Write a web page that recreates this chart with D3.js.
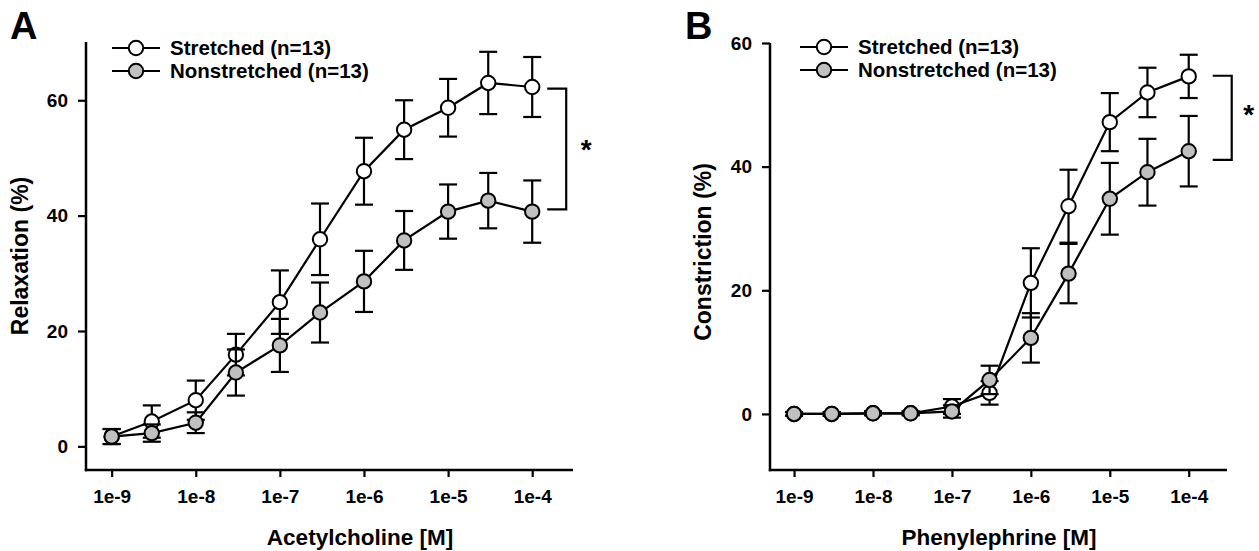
<!DOCTYPE html>
<html>
<head>
<meta charset="utf-8">
<script src="https://cdn.jsdelivr.net/npm/d3@7"></script>
<style>
  body { margin: 0; background: #fff; }
  text { font-family: Arial, "Liberation Sans", sans-serif; font-weight: bold; fill: #000; }
</style>
</head>
<body>
<div id="main"></div>
<script>
// concentrations [M]
var conc = [1e-9, 3e-9, 1e-8, 3e-8, 1e-7, 3e-7, 1e-6, 3e-6, 1e-5, 3e-5, 1e-4];
var tickVals = [1e-9, 1e-8, 1e-7, 1e-6, 1e-5, 1e-4];
var tickLabels = ["1e-9", "1e-8", "1e-7", "1e-6", "1e-5", "1e-4"];
var seriesNames = ["Stretched (n=13)", "Nonstretched (n=13)"];

// panel A - acetylcholine relaxation (%)
var achStretched    = [1.7, 4.3, 8.0, 15.9, 25.0, 35.9, 47.7, 54.9, 58.7, 63.0, 62.3];
var achStretchedErr = [1.3, 2.8, 3.4, 3.6, 5.5, 6.2, 5.8, 5.1, 5.0, 5.4, 5.2];
var achNon          = [1.7, 2.3, 4.1, 12.8, 17.5, 23.2, 28.6, 35.7, 40.7, 42.6, 40.7];
var achNonErr       = [1.3, 1.5, 1.8, 4.0, 4.6, 5.2, 5.3, 5.1, 4.7, 4.8, 5.4];
var achTicks = [0, 20, 40, 60];
var achBracket = [62.0, 41.1];

// panel B - phenylephrine constriction (%)
var pheStretched    = [0.0, 0.0, 0.1, 0.1, 1.2, 3.4, 21.2, 33.6, 47.2, 52.0, 54.6];
var pheStretchedErr = [0.3, 0.3, 0.3, 0.3, 1.2, 1.9, 5.6, 5.9, 4.7, 4.0, 3.5];
var pheNon          = [0.0, 0.0, 0.1, 0.1, 0.4, 5.5, 12.3, 22.7, 34.8, 39.1, 42.5];
var pheNonErr       = [0.3, 0.3, 0.3, 0.3, 1.0, 2.3, 4.0, 4.8, 5.8, 5.4, 5.7];
var pheTicks = [0, 20, 40, 60];
var pheBracket = [54.7, 41.1];

var fills = ["#ffffff", "#c0c0c0"];

var svg = d3.select("#main")
    .append("svg")
    .attr("width", 1259)
    .attr("height", 551);

function drawPanel(cfg) {
  var g = svg.append("g");

  var xScale = d3.scaleLog()
      .domain([Math.pow(10, -9.305), Math.pow(10, -3.515)])
      .range([cfg.left, cfg.right]);

  var yScale = d3.scaleLinear()
      .domain(cfg.yDomain)
      .range([cfg.bottom, cfg.top]);

  var xAxis = d3.axisBottom(xScale)
      .tickValues(tickVals)
      .tickFormat(function(d, i) { return tickLabels[i]; })
      .tickSizeOuter(0)
      .tickSize(7)
      .tickPadding(13);

  var yAxis = d3.axisLeft(yScale)
      .tickValues(cfg.yTicks)
      .tickSizeOuter(0)
      .tickSize(8)
      .tickPadding(10);

  g.append("g")
      .attr("transform", "translate(0," + cfg.bottom + ")")
      .call(xAxis)
      .call(function(a) {
        a.select(".domain").attr("stroke-width", 2.5)
          .attr("d", "M" + (cfg.left - 1.2) + ",0H" + cfg.right);
        a.selectAll(".tick line").attr("stroke-width", 2.2);
        a.selectAll(".tick text").style("font-size", "19px");
      });

  g.append("g")
      .attr("transform", "translate(" + cfg.left + ",0)")
      .call(yAxis)
      .call(function(a) {
        a.select(".domain").attr("stroke-width", 2.5)
          .attr("d", "M0," + cfg.top + "V" + (cfg.bottom + 1.2));
        a.selectAll(".tick line").attr("stroke-width", 2.2);
        a.selectAll(".tick text").style("font-size", "19px");
      });

  // axis titles
  g.append("text")
      .attr("x", cfg.xTitleX)
      .attr("y", 545)
      .style("text-anchor", "middle")
      .style("font-size", "22.5px")
      .text(cfg.xTitle);

  g.append("text")
      .attr("transform", "translate(" + cfg.yTitleX + "," + cfg.yTitleY + ") rotate(-90)")
      .style("text-anchor", "middle")
      .style("font-size", "23px")
      .text(cfg.yTitle);

  // panel letter
  g.append("text")
      .attr("x", cfg.letterX)
      .attr("y", 39)
      .style("font-size", "38px")
      .text(cfg.letter);

  var line = d3.line()
      .x(function(d) { return xScale(d.c); })
      .y(function(d) { return yScale(d.v); });

  cfg.series.forEach(function(s, k) {
    var data = conc.map(function(c, i) { return {c: c, v: s.values[i], e: s.errs[i]}; });
    var sg = g.append("g");

    sg.append("path")
        .datum(data)
        .attr("d", line)
        .attr("fill", "none")
        .attr("stroke", "#000")
        .attr("stroke-width", 2.2);

    var eb = sg.selectAll(".err")
        .data(data)
        .enter().append("g")
        .attr("class", "err")
        .attr("stroke", "#000")
        .attr("stroke-width", 2.2);

    eb.append("line")
        .attr("x1", function(d) { return xScale(d.c); })
        .attr("x2", function(d) { return xScale(d.c); })
        .attr("y1", function(d) { return yScale(d.v - d.e); })
        .attr("y2", function(d) { return yScale(d.v + d.e); });

    [-1, 1].forEach(function(sign) {
      eb.append("line")
          .attr("x1", function(d) { return xScale(d.c) - 9; })
          .attr("x2", function(d) { return xScale(d.c) + 9; })
          .attr("y1", function(d) { return yScale(d.v + sign * d.e); })
          .attr("y2", function(d) { return yScale(d.v + sign * d.e); });
    });

    sg.selectAll("circle")
        .data(data)
        .enter().append("circle")
        .attr("cx", function(d) { return xScale(d.c); })
        .attr("cy", function(d) { return yScale(d.v); })
        .attr("r", 7.2)
        .style("fill", fills[k])
        .style("stroke", "#000")
        .style("stroke-width", 2);
  });

  // legend
  var legend = g.selectAll(".legend")
      .data(seriesNames)
      .enter().append("g")
      .attr("class", "legend")
      .attr("transform", function(d, i) { return "translate(" + cfg.legendX + "," + (cfg.legendY + i * 23) + ")"; });

  legend.append("line")
      .attr("x1", 0)
      .attr("x2", 48)
      .attr("stroke", "#000")
      .attr("stroke-width", 2.2);

  legend.append("circle")
      .attr("cx", 24)
      .attr("r", 7.2)
      .style("fill", function(d, i) { return fills[i]; })
      .style("stroke", "#000")
      .style("stroke-width", 2);

  legend.append("text")
      .attr("x", 58)
      .attr("y", 7)
      .style("font-size", "20.5px")
      .text(function(d) { return d; });

  // significance bracket beside the last points
  var last = conc.length - 1;
  var yTop = yScale(cfg.bracket[0]);
  var yBot = yScale(cfg.bracket[1]);
  var bx0 = xScale(conc[last]) + cfg.bracketGap;
  var bx1 = bx0 + 19;
  g.append("path")
      .attr("d", "M" + bx0 + "," + yTop + "H" + bx1 + "V" + yBot + "H" + bx0)
      .attr("fill", "none")
      .attr("stroke", "#000")
      .attr("stroke-width", 2.2);

  g.append("text")
      .attr("x", bx1 + cfg.starGap)
      .attr("y", cfg.starY + 12)
      .style("text-anchor", "middle")
      .style("font-size", "28px")
      .text("*");
}

drawPanel({
  letter: "A", letterX: 10,
  left: 86, right: 573, top: 42, bottom: 470,
  yDomain: [-4.1, 70.1], yTicks: achTicks,
  xTitle: "Acetylcholine [M]", xTitleX: 360,
  yTitle: "Relaxation (%)", yTitleX: 28, yTitleY: 256,
  legendX: 112, legendY: 48,
  bracket: achBracket, bracketGap: 15, starGap: 20, starY: 147,
  series: [
    {values: achStretched, errs: achStretchedErr},
    {values: achNon, errs: achNonErr}
  ]
});

drawPanel({
  letter: "B", letterX: 685,
  left: 770, right: 1227, top: 43, bottom: 470,
  yDomain: [-9.07, 60], yTicks: pheTicks,
  xTitle: "Phenylephrine [M]", xTitleX: 999,
  yTitle: "Constriction (%)", yTitleX: 711, yTitleY: 252,
  legendX: 800, legendY: 47,
  bracket: pheBracket, bracketGap: 24, starGap: 17, starY: 112,
  series: [
    {values: pheStretched, errs: pheStretchedErr},
    {values: pheNon, errs: pheNonErr}
  ]
});
</script>
</body>
</html>
